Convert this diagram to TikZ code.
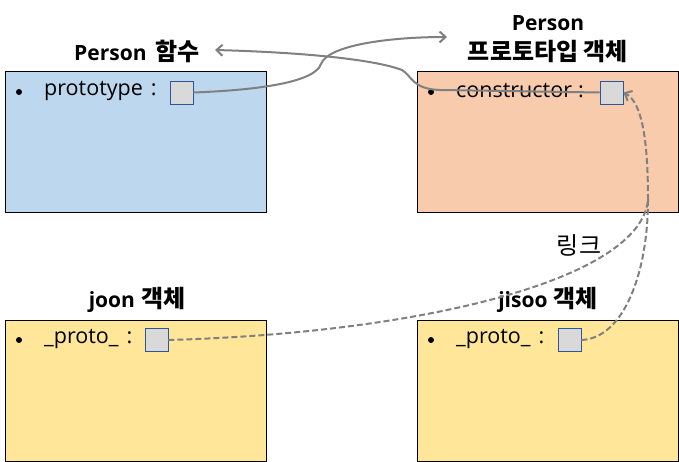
\documentclass[tikz,border=0pt]{standalone}
\usepackage{fontspec}
\setmainfont{Open Sans}
\newfontfamily\kr{Noto Sans CJK KR}
\usetikzlibrary{arrows.meta}
\definecolor{blueF}{HTML}{BDD7EE}
\definecolor{orangeF}{HTML}{F8CBAD}
\definecolor{yellowF}{HTML}{FFE699}
\definecolor{sqF}{HTML}{D9D9D9}
\definecolor{sqD}{HTML}{2F5597}
\definecolor{lineG}{HTML}{808080}
\newcommand{\K}[1]{{\kr\fontsize{24}{26}\selectfont #1}}
\tikzset{
  objbox/.style={draw=black, line width=0.9pt, minimum width=261pt, minimum height=141pt, anchor=north west, inner sep=0pt},
  slot/.style={draw=sqD, fill=sqF, line width=0.9pt, minimum width=23pt, minimum height=23pt, inner sep=0pt},
  title/.style={font=\bfseries\fontsize{21}{22}\selectfont, align=center, inner sep=0pt},
  body/.style={font=\fontsize{21.5}{24}\selectfont, anchor=west, inner sep=0pt},
  bul/.style={circle, fill=black, inner sep=0pt, minimum size=6pt},
  conn/.style={draw=lineG, line width=2pt},
  dconn/.style={draw=lineG, line width=2pt, dash pattern=on 6pt off 3pt},
  tip/.style={-{Straight Barb[length=6pt,width=11pt]}}
}
\begin{document}
\begin{tikzpicture}[x=1pt,y=-1pt]
\useasboundingbox (0,0) rectangle (679,462);
% boxes
\node[objbox, fill=blueF] (fn) at (5,71) {};
\node[objbox, fill=orangeF] (proto) at (417,71) {};
\node[objbox, fill=yellowF] (joon) at (5,320) {};
\node[objbox, fill=yellowF] (jisoo) at (417,320) {};
% titles
\node[title] (tfn) at (137,51) {Person\hspace{9pt}\K{\bfseries 함수}};
\node[title] (tproto) at (548,23) {Person};
\node[title] (tproto2) at (548,52) {\K{\bfseries 프로토타입 객체}};
\node[title] (tjoon) at (137,300) {joon\hspace{6pt}\K{\bfseries 객체}};
\node[title] (tjisoo) at (548,300) {jisoo\hspace{6pt}\K{\bfseries 객체}};
\node[inner sep=0pt] (link) at (579,245) {\K{링크}};
% bullets and texts
\node[bul] (b1) at (19,92) {};
\node[body] (l1) at (44,91) {prototype\hspace{8pt}:};
\node[slot] (s1) at (181.5,92.5) {};
\node[bul] (b2) at (431,92) {};
\node[body] (l2) at (456,91) {constructor\hspace{6pt}:};
\node[slot] (s2) at (611.5,92.5) {};
\node[bul] (b3) at (19,340) {};
\node[body] (l3) at (44,339) {\_proto\_\hspace{8pt}:};
\node[slot] (s3) at (156.5,340) {};
\node[bul] (b4) at (431,340) {};
\node[body] (l4) at (456,339) {\_proto\_\hspace{8pt}:};
\node[slot] (s4) at (569.5,340) {};
% free ends
\coordinate (a1) at (447,37);
\coordinate (a2) at (215,50);
\coordinate (m) at (648,200);
% connectors
\draw[conn, tip] (s1.east) .. controls (260,90) and (315,82) .. (321,64)
  .. controls (328,45) and (390,37) .. (a1);
\draw[conn, tip] (s2.west) -- (440,90) .. controls (412,89) and (412,76) .. (402,70)
  .. controls (370,58) and (290,52) .. (a2);
\draw[dconn] (s3.east) .. controls (420,333) and (640,280) .. (m);
\draw[dconn] (s4.east) .. controls (625,338) and (648,270) .. (m);
\draw[dconn, tip] (m) .. controls (648,140) and (642,102) .. (s2.east);
\end{tikzpicture}
\end{document}
